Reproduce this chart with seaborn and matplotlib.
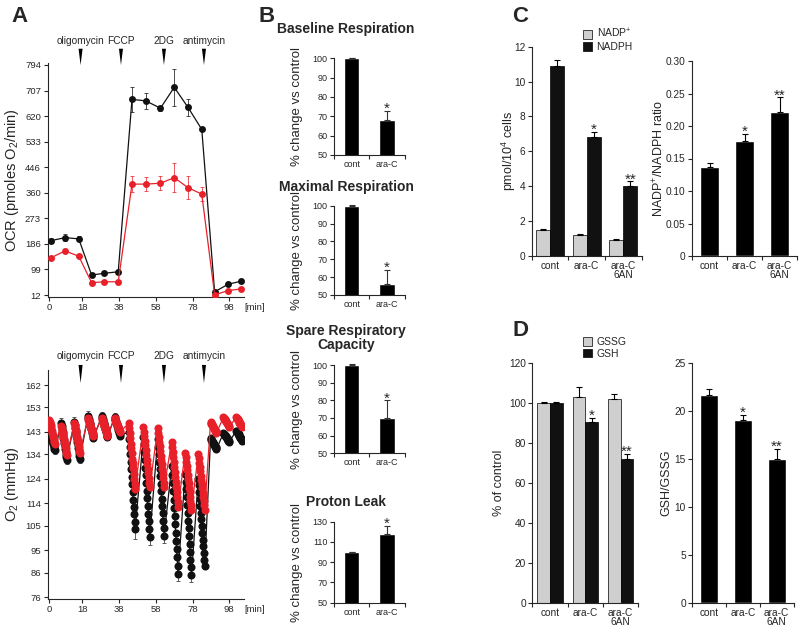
import numpy as np
import pandas as pd
import matplotlib
matplotlib.use('Agg')
import matplotlib.pyplot as plt
import matplotlib.transforms as mtransforms
from matplotlib.patches import Patch
import seaborn as sns

# ---------------- data ----------------
# Panel A (top): oxygen consumption rate
ocr_time = [1, 8.5, 16, 23, 30, 37.5, 45, 52.5, 60.5, 68, 75.5, 83, 90, 97.5, 104.5]
ocr_cont = [197, 207, 203, 80, 86, 91, 677, 672, 647, 718, 650, 575, 23, 49, 59]
ocr_cont_err = [8, 12, 8, 5, 5, 5, 42, 28, 8, 62, 28, 5, 4, 5, 5]
ocr_arac = [139, 162, 144, 54, 57, 57, 389, 389, 392, 411, 377, 355, 13, 27, 33]
ocr_arac_err = [6, 5, 6, 4, 4, 4, 26, 25, 23, 50, 40, 25, 3, 3, 3]
ocr_ticks = [12, 99, 186, 273, 360, 446, 533, 620, 707, 794]
time_ticks = [0, 18, 38, 58, 78, 98]

drugs = ['oligomycin', 'FCCP', '2DG', 'antimycin']
inject_min = [17, 39, 62.4, 84.2]

# Panel A (bottom): O2 level during each measurement cycle
o2_ticks = [76, 86, 95, 105, 114, 124, 134, 143, 153, 162]
o2_cycle_start = [0, 6.5, 13.6, 21.0, 28.6, 35.5, 43.2, 51.2, 59.0, 66.6, 73.9, 81.1, 87.8, 94.8, 101.8]
o2_cycle_dur = [3.0, 3.0, 3.0, 3.0, 3.0, 3.0, 3.5, 3.5, 3.5, 3.5, 3.5, 3.5, 3.2, 3.2, 3.2]
o2_cont = [
    [143.5, 142.9, 142.3, 141.7, 141.1, 140.4, 139.8, 139.2, 138.6, 138.0, 137.4, 136.7, 136.1, 135.5],
    [146.5, 145.3, 144.2, 143.0, 141.9, 140.7, 139.6, 138.4, 137.3, 136.1, 135.0, 133.8, 132.7, 131.5],
    [147.0, 145.8, 144.7, 143.5, 142.4, 141.2, 140.1, 138.9, 137.8, 136.6, 135.5, 134.3, 133.2, 132.0],
    [149.5, 148.8, 148.1, 147.4, 146.7, 146.0, 145.3, 144.7, 144.0, 143.3, 142.6, 141.9, 141.2, 140.5],
    [149.5, 148.8, 148.2, 147.5, 146.8, 146.2, 145.5, 144.8, 144.1, 143.5, 142.8, 142.1, 141.5, 140.8],
    [149.0, 148.4, 147.8, 147.3, 146.7, 146.1, 145.5, 145.0, 144.4, 143.8, 143.2, 142.7, 142.1, 141.5],
    [143.0, 140.0, 136.9, 133.9, 130.8, 127.8, 124.8, 121.7, 118.7, 115.6, 112.6, 109.6, 106.5, 103.5],
    [141.0, 137.9, 134.8, 131.7, 128.5, 125.4, 122.3, 119.2, 116.1, 113.0, 109.9, 106.7, 103.6, 100.5],
    [140.0, 137.0, 134.0, 131.0, 128.0, 125.0, 122.0, 119.0, 116.0, 113.0, 110.0, 107.0, 104.0, 101.0],
    [129.0, 125.7, 122.3, 119.0, 115.6, 112.3, 108.9, 105.6, 102.2, 98.9, 95.5, 92.2, 88.8, 85.5],
    [126.0, 122.8, 119.7, 116.5, 113.4, 110.2, 107.1, 103.9, 100.8, 97.6, 94.5, 91.3, 88.2, 85.0],
    [124.0, 121.3, 118.5, 115.8, 113.1, 110.3, 107.6, 104.9, 102.2, 99.4, 96.7, 94.0, 91.2, 88.5],
    [140.5, 140.2, 139.8, 139.5, 139.1, 138.8, 138.4, 138.1, 137.7, 137.4, 137.0, 136.7, 136.3, 136.0],
    [142.5, 142.2, 142.0, 141.7, 141.4, 141.2, 140.9, 140.6, 140.3, 140.1, 139.8, 139.5, 139.3, 139.0],
    [143.5, 143.2, 142.9, 142.6, 142.3, 142.0, 141.7, 141.3, 141.0, 140.7, 140.4, 140.1, 139.8, 139.5],
]
o2_arac = [
    [148.0, 147.2, 146.5, 145.7, 144.9, 144.2, 143.4, 142.6, 141.8, 141.1, 140.3, 139.5, 138.8, 138.0],
    [145.5, 144.6, 143.7, 142.7, 141.8, 140.9, 140.0, 139.0, 138.1, 137.2, 136.3, 135.3, 134.4, 133.5],
    [146.5, 145.6, 144.7, 143.7, 142.8, 141.9, 141.0, 140.0, 139.1, 138.2, 137.3, 136.3, 135.4, 134.5],
    [148.5, 148.0, 147.4, 146.9, 146.3, 145.8, 145.3, 144.7, 144.2, 143.7, 143.1, 142.6, 142.0, 141.5],
    [148.5, 148.0, 147.4, 146.9, 146.3, 145.8, 145.3, 144.7, 144.2, 143.7, 143.1, 142.6, 142.0, 141.5],
    [148.5, 148.1, 147.7, 147.2, 146.8, 146.4, 146.0, 145.5, 145.1, 144.7, 144.3, 143.8, 143.4, 143.0],
    [146.5, 144.5, 142.4, 140.4, 138.3, 136.3, 134.3, 132.2, 130.2, 128.2, 126.1, 124.1, 122.0, 120.0],
    [145.0, 143.1, 141.2, 139.3, 137.5, 135.6, 133.7, 131.8, 129.9, 128.0, 126.2, 124.3, 122.4, 120.5],
    [144.5, 142.7, 140.8, 139.0, 137.1, 135.3, 133.4, 131.6, 129.8, 127.9, 126.1, 124.2, 122.4, 120.5],
    [139.0, 137.0, 134.9, 132.9, 130.8, 128.8, 126.8, 124.7, 122.7, 120.7, 118.6, 116.6, 114.5, 112.5],
    [134.5, 132.7, 131.0, 129.2, 127.4, 125.7, 123.9, 122.1, 120.3, 118.6, 116.8, 115.0, 113.3, 111.5],
    [134.0, 132.3, 130.5, 128.8, 127.1, 125.3, 123.6, 121.9, 120.2, 118.4, 116.7, 115.0, 113.2, 111.5],
    [147.0, 146.7, 146.3, 146.0, 145.6, 145.3, 144.9, 144.6, 144.2, 143.9, 143.5, 143.2, 142.8, 142.5],
    [149.0, 148.7, 148.4, 148.1, 147.8, 147.5, 147.2, 146.8, 146.5, 146.2, 145.9, 145.6, 145.3, 145.0],
    [149.0, 148.7, 148.4, 148.1, 147.8, 147.5, 147.2, 146.8, 146.5, 146.2, 145.9, 145.6, 145.3, 145.0],
]
o2_cont_top_err = [0, 2, 2, 2, 1.5, 1.5, 3, 0, 0, 0, 0, 0, 0, 0, 0]
o2_cont_bottom_err = [1.5, 1.5, 1.5, 1, 1, 1, 4, 3.5, 3, 3, 3, 1, 0, 0, 0]

# Panel B
b_groups = ['cont', 'ara-C']
baseline_resp = [100, 68]
baseline_err = [0.4, 5]
maximal_resp = [100, 56]
maximal_err = [0.4, 8]
spare_cap = [100, 70]
spare_err = [0.4, 10]
proton_leak = [100, 118]
proton_err = [0.4, 8]
b_stars = ['', '*']

# Panel C
cd_groups = ['cont', 'ara-C', 'ara-C\n6AN']
nadp = [1.5, 1.2, 0.9]
nadp_err = [0.05, 0.05, 0.06]
nadph = [10.9, 6.8, 4.0]
nadph_err = [0.35, 0.3, 0.28]
nadp_ratio = [0.137, 0.177, 0.221]
nadp_ratio_err = [0.006, 0.011, 0.023]
ratio_ticks = [0, 0.05, 0.10, 0.15, 0.20, 0.25, 0.30]
ratio_ticklabels = ['0', '0.05', '0.10', '0.15', '0.20', '0.25', '0.30']

# Panel D
gssg = [100, 103, 102]
gssg_err = [0.4, 5, 2.5]
gsh = [100, 90.5, 72]
gsh_err = [0.4, 2.2, 2.6]
gsh_gssg = [21.7, 19.1, 15.0]
gsh_gssg_err = [0.6, 0.55, 1.1]
cd_stars = ['', '*', '**']

# ---------------- style ----------------
sns.set_style('ticks')
plt.rcParams['font.family'] = ['Liberation Sans', 'DejaVu Sans']
plt.rcParams['mathtext.fontset'] = 'custom'
plt.rcParams['mathtext.rm'] = 'Liberation Sans'
plt.rcParams['axes.linewidth'] = 0.8
plt.rcParams['xtick.major.width'] = 0.8
plt.rcParams['ytick.major.width'] = 0.8
plt.rcParams['xtick.minor.width'] = 0.8

RED = '#e8202a'
BLK = '#111111'
GREY = '#cfcfcf'
W, H = 800, 630

fig = plt.figure(figsize=(8, 6.3), dpi=100)


def add_ax(left, top, right, bottom):
    return fig.add_axes([left / W, 1 - bottom / H, (right - left) / W, (bottom - top) / H])


def fpos(x, y):
    return x / W, 1 - y / H


def label_coords(ax, right_px, left_px, right_ax_px):
    ax.yaxis.set_label_coords((right_px - left_px) / (right_ax_px - left_px), 0.5)


# ---------------- Panel A top ----------------
A_L, A_R = 47.9, 244.0
axA1 = add_ax(A_L, 63.2, A_R, 296.5)
df_ocr = pd.DataFrame({
    'time': ocr_time * 2,
    'ocr': ocr_cont + ocr_arac,
    'group': ['cont'] * len(ocr_time) + ['ara-C'] * len(ocr_time),
})
for vals, errs, col in [(ocr_cont, ocr_cont_err, BLK), (ocr_arac, ocr_arac_err, RED)]:
    axA1.errorbar(ocr_time, vals, yerr=errs, fmt='none', ecolor=col, elinewidth=0.7,
                  capsize=1.6, capthick=0.7, alpha=0.75, zorder=2)
sns.lineplot(data=df_ocr, x='time', y='ocr', hue='group', hue_order=['cont', 'ara-C'],
             palette={'cont': BLK, 'ara-C': RED}, marker='o', markersize=5,
             markeredgewidth=0, linewidth=0.9, legend=False, ax=axA1, zorder=3)
axA1.set_xlim(-0.8, 106)
axA1.set_ylim(7, 800)
axA1.set_yticks(ocr_ticks)
axA1.set_xticks(time_ticks)
axA1.set_xlabel('')
axA1.set_ylabel('OCR (pmoles O$_\\mathregular{2}$/min)', fontsize=10.5)
label_coords(axA1, 21, A_L, A_R)

# ---------------- Panel A bottom ----------------
axA2 = add_ax(A_L, 370.2, A_R, 598.5)
rows = []
for grp, cycles in [('cont', o2_cont), ('ara-C', o2_arac)]:
    for start, dur, vals in zip(o2_cycle_start, o2_cycle_dur, cycles):
        ts = np.linspace(start, start + dur, len(vals))
        for t, v in zip(ts, vals):
            rows.append((grp, t, v))
df_o2 = pd.DataFrame(rows, columns=['group', 'time', 'o2'])

# error bars at first / last point of each control cycle
eb_t, eb_v, eb_lo, eb_hi = [], [], [], []
for start, dur, vals, et, ebm in zip(o2_cycle_start, o2_cycle_dur, o2_cont,
                                     o2_cont_top_err, o2_cont_bottom_err):
    if et > 0:
        eb_t.append(start); eb_v.append(vals[0]); eb_lo.append(0); eb_hi.append(et)
    if ebm > 0:
        eb_t.append(start + dur); eb_v.append(vals[-1]); eb_lo.append(ebm); eb_hi.append(0)
axA2.errorbar(eb_t, eb_v, yerr=[eb_lo, eb_hi], fmt='none', ecolor='#444444',
              elinewidth=0.6, capsize=1.5, capthick=0.6, zorder=2)
sns.lineplot(data=df_o2, x='time', y='o2', hue='group', hue_order=['cont', 'ara-C'],
             palette={'cont': BLK, 'ara-C': RED}, marker='o', markersize=5.8,
             markeredgewidth=0, linewidth=0.9, legend=False, ax=axA2, zorder=3)
axA2.set_xlim(-0.8, 106)
axA2.set_ylim(75.5, 168)
axA2.set_yticks(o2_ticks)
axA2.set_xticks(time_ticks)
axA2.set_xlabel('')
axA2.set_ylabel('O$_\\mathregular{2}$ (mmHg)', fontsize=10.5)
label_coords(axA2, 21, A_L, A_R)

for ax, y_tip, y_top, y_lab in [(axA1, 0.992, 1.062, 1.095), (axA2, 0.944, 1.023, 1.062)]:
    trans = mtransforms.blended_transform_factory(ax.transData, ax.transAxes)
    for name, t in zip(drugs, inject_min):
        ax.fill([t - 1.1, t + 1.1, t], [y_top, y_top, y_tip], transform=trans,
                color='black', clip_on=False, lw=0)
        ax.text(t, y_lab, name, transform=trans, ha='center', va='center', fontsize=7.3)
    ax.tick_params(labelsize=6.8, length=3, pad=2)
    ax.annotate('[min]', xy=(1, 0), xycoords='axes fraction', xytext=(0.5, -5),
                textcoords='offset points', ha='left', va='top', fontsize=6.8)
    sns.despine(ax=ax)

# ---------------- Panel B ----------------
B_L, B_R = 334.0, 404.6
b_specs = [
    ('Baseline Respiration', baseline_resp, baseline_err, 58.3, 155.0, (50, 100), [50, 60, 70, 80, 90, 100], 29),
    ('Maximal Respiration', maximal_resp, maximal_err, 205.7, 295.0, (50, 100), [50, 60, 70, 80, 90, 100], 187),
    ('Spare Respiratory\nCapacity', spare_cap, spare_err, 365.0, 453.3, (50, 100), [50, 60, 70, 80, 90, 100], 338),
    ('Proton Leak', proton_leak, proton_err, 521.7, 602.7, (50, 130), [50, 70, 90, 110, 130], 502),
]


def add_bar_errors(ax, container, errs, color='black'):
    xs = [p.get_x() + p.get_width() / 2 for p in container.patches]
    ys = [p.get_height() for p in container.patches]
    ax.errorbar(xs, ys, yerr=[np.zeros(len(errs)), errs], fmt='none', ecolor=color,
                elinewidth=0.8, capsize=2.2, capthick=0.8, zorder=5, clip_on=False)
    return xs, [y + e for y, e in zip(ys, errs)]


def add_stars(ax, xs, tops, stars, size=11):
    for x, t, s in zip(xs, tops, stars):
        if s:
            ax.annotate(s, xy=(x, t), xytext=(0, -1.5), textcoords='offset points',
                        ha='center', va='baseline', fontsize=size)


def style_cat(ax, labels, lblsize):
    n = len(labels)
    ax.set_xlim(-0.5, n - 0.5)
    ax.set_xticks(range(n))
    ax.set_xticklabels(labels, linespacing=0.95)
    ax.set_xticks(np.arange(-0.5, n, 1.0), minor=True)
    ax.tick_params(axis='x', which='major', length=0, pad=3.5, labelsize=lblsize)
    ax.tick_params(axis='x', which='minor', length=3)
    ax.tick_params(axis='y', length=3, pad=1.5, labelsize=lblsize)
    ax.set_xlabel('')
    sns.despine(ax=ax)


for title, vals, errs, top, bot, ylim, yt, ty in b_specs:
    ax = add_ax(B_L, top, B_R, bot)
    df = pd.DataFrame({'group': b_groups, 'value': vals})
    sns.barplot(data=df, x='group', y='value', order=b_groups, color='black', saturation=1,
                width=0.43, errorbar=None, ax=ax)
    xs, tops = add_bar_errors(ax, ax.containers[0], errs, color='#333333')
    add_stars(ax, xs, tops, b_stars)
    ax.set_ylim(*ylim)
    ax.set_yticks(yt)
    style_cat(ax, b_groups, 6.5)
    ax.set_ylabel('% change vs control', fontsize=9.5)
    label_coords(ax, 303, B_L, B_R)
    fig.text(*fpos(346, ty), title, ha='center', va='center', fontsize=10,
             fontweight='bold', linespacing=1.0)

# ---------------- Panel C ----------------
axC1 = add_ax(531.7, 46.7, 641.7, 256.0)
dfC = pd.DataFrame({
    'group': cd_groups * 2,
    'value': nadp + nadph,
    'species': ['NADP+'] * 3 + ['NADPH'] * 3,
})
sns.barplot(data=dfC, x='group', y='value', hue='species', order=cd_groups,
            hue_order=['NADP+', 'NADPH'], palette=[GREY, BLK], saturation=1, width=0.76,
            edgecolor='black', linewidth=0.5, errorbar=None, legend=False, ax=axC1)
add_bar_errors(axC1, axC1.containers[0], nadp_err)
xs, tops = add_bar_errors(axC1, axC1.containers[1], nadph_err)
add_stars(axC1, xs, tops, cd_stars)
axC1.set_ylim(0, 12)
axC1.set_yticks([0, 2, 4, 6, 8, 10, 12])
style_cat(axC1, cd_groups, 7.3)
axC1.set_ylabel('pmol/10$^\\mathregular{4}$ cells', fontsize=9)
label_coords(axC1, 518, 531.7, 641.7)
axC1.legend(handles=[Patch(facecolor=GREY, edgecolor='black', lw=0.5),
                     Patch(facecolor=BLK, edgecolor='black', lw=0.5)],
            labels=['NADP$^\\mathregular{+}$', 'NADPH'], loc='upper left',
            bbox_to_anchor=fpos(583, 27), bbox_transform=fig.transFigure, frameon=False,
            fontsize=7.5, handlelength=0.9, handleheight=0.9, handletextpad=0.4,
            labelspacing=0.15, borderpad=0, borderaxespad=0)

axC2 = add_ax(692.0, 61.0, 797.0, 256.0)
dfC2 = pd.DataFrame({'group': cd_groups, 'value': nadp_ratio})
sns.barplot(data=dfC2, x='group', y='value', order=cd_groups, color='black', saturation=1,
            width=0.52, errorbar=None, ax=axC2)
xs, tops = add_bar_errors(axC2, axC2.containers[0], nadp_ratio_err)
add_stars(axC2, xs, tops, cd_stars)
axC2.set_ylim(0, 0.3)
axC2.set_yticks(ratio_ticks)
axC2.set_yticklabels(ratio_ticklabels)
style_cat(axC2, cd_groups, 7.3)
axC2.set_ylabel('NADP$^\\mathregular{+}$/NADPH ratio', fontsize=9)
label_coords(axC2, 666, 692.0, 797.0)

# ---------------- Panel D ----------------
axD1 = add_ax(532.3, 363.3, 638.3, 602.7)
dfD = pd.DataFrame({
    'group': cd_groups * 2,
    'value': gssg + gsh,
    'species': ['GSSG'] * 3 + ['GSH'] * 3,
})
sns.barplot(data=dfD, x='group', y='value', hue='species', order=cd_groups,
            hue_order=['GSSG', 'GSH'], palette=[GREY, BLK], saturation=1, width=0.72,
            edgecolor='black', linewidth=0.5, errorbar=None, legend=False, ax=axD1)
add_bar_errors(axD1, axD1.containers[0], gssg_err)
xs, tops = add_bar_errors(axD1, axD1.containers[1], gsh_err)
add_stars(axD1, xs, tops, cd_stars)
axD1.set_ylim(0, 120)
axD1.set_yticks([0, 20, 40, 60, 80, 100, 120])
style_cat(axD1, cd_groups, 7.3)
axD1.set_ylabel('% of control', fontsize=9)
label_coords(axD1, 505, 532.3, 638.3)
axD1.legend(handles=[Patch(facecolor=GREY, edgecolor='black', lw=0.5),
                     Patch(facecolor=BLK, edgecolor='black', lw=0.5)],
            labels=['GSSG', 'GSH'], loc='upper left',
            bbox_to_anchor=fpos(583, 337), bbox_transform=fig.transFigure, frameon=False,
            fontsize=7.5, handlelength=0.9, handleheight=0.9, handletextpad=0.4,
            labelspacing=0.15, borderpad=0, borderaxespad=0)

axD2 = add_ax(692.1, 363.3, 793.6, 602.7)
dfD2 = pd.DataFrame({'group': cd_groups, 'value': gsh_gssg})
sns.barplot(data=dfD2, x='group', y='value', order=cd_groups, color='black', saturation=1,
            width=0.54, errorbar=None, ax=axD2)
xs, tops = add_bar_errors(axD2, axD2.containers[0], gsh_gssg_err)
add_stars(axD2, xs, tops, cd_stars)
axD2.set_ylim(0, 25)
axD2.set_yticks([0, 5, 10, 15, 20, 25])
style_cat(axD2, cd_groups, 7.3)
axD2.set_ylabel('GSH/GSSG', fontsize=9)
label_coords(axD2, 672, 692.1, 793.6)

# ---------------- panel letters ----------------
for letter, (x, y) in zip('ABCD', [(20, 16), (267, 16), (520, 17), (520, 330)]):
    fig.text(*fpos(x, y), letter, ha='center', va='center', fontsize=16, fontweight='bold')

fig.savefig('out.png', dpi=100)
